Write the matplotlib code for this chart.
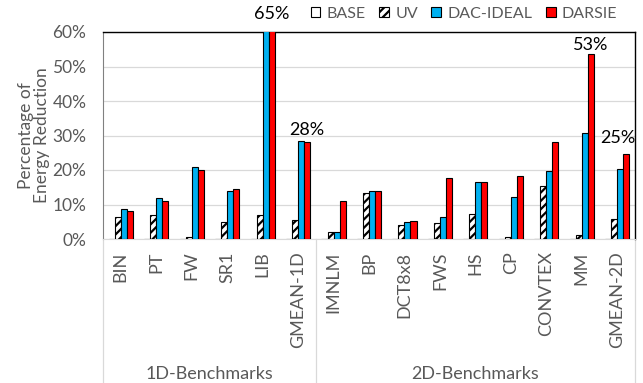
import numpy as np
import matplotlib
matplotlib.use('Agg')
import matplotlib.pyplot as plt
import matplotlib.transforms as mtransforms
from matplotlib.patches import Patch

plt.rcParams['font.family'] = ['Lato', 'DejaVu Sans']
plt.rcParams['hatch.linewidth'] = 1.6

# data (percent)
categories = ['BIN', 'PT', 'FW', 'SR1', 'LIB', 'GMEAN-1D',
              'IMNLM', 'BP', 'DCT8x8', 'FWS', 'HS', 'CP', 'CONVTEX', 'MM', 'GMEAN-2D']
groups = ['1D-Benchmarks', '2D-Benchmarks']
group_sizes = [6, 9]
series = ['BASE', 'UV', 'DAC-IDEAL', 'DARSIE']
base = [0, 0, 0, 0, 0, 0, 0, 0, 0, 0, 0, 0, 0, 0, 0]
uv = [6.5, 7.0, 0.5, 5.0, 7.0, 5.4, 1.9, 13.3, 4.1, 4.7, 7.3, 0.5, 15.4, 1.1, 5.9]
dac = [8.6, 11.8, 20.8, 13.9, 65.0, 28.4, 1.9, 13.8, 5.0, 6.4, 16.5, 12.1, 19.8, 30.8, 20.4]
darsie = [8.0, 10.9, 20.1, 14.5, 65.0, 28.1, 10.9, 13.8, 5.3, 17.7, 16.5, 18.4, 28.1, 53.6, 24.5]
# callouts on DARSIE bars: (category index, text, x / y offset in points)
callouts = [(4, '65%', 0, 7), (5, '28%', 0, 3), (13, '53%', 0, 1), (14, '25%', -6, 6)]

gray = '#595959'
colors = ['white', 'white', '#00b0f0', '#ff0000']
hatches = [None, '////', None, None]

fig = plt.figure(figsize=(6.43, 3.83), dpi=100)
ax = fig.add_axes([103/643, 1-239/383, 532/643, 207/383])

x = np.arange(len(categories))
w = 0.17
for k, vals in enumerate([base, uv, dac, darsie]):
    ax.bar(x + (k - 1.5) * w, vals, w, color=colors[k], edgecolor='black',
           linewidth=0.8, hatch=hatches[k], zorder=3)

ax.set_xlim(-0.5, len(categories) - 0.5)
ax.set_ylim(0, 60)
ax.set_yticks(np.arange(0, 61, 10))
ax.set_yticklabels([f'{v}%' for v in range(0, 61, 10)])
ax.yaxis.grid(True, color='#d9d9d9', linewidth=0.9, zorder=0)
ax.set_axisbelow(True)
ax.set_xticks(x)
ax.set_xticklabels(categories, rotation=90, va='top', ha='center')
ax.tick_params(axis='both', length=0, colors=gray)
ax.tick_params(axis='x', pad=9, labelsize=13)
ax.tick_params(axis='y', pad=12, labelsize=12.5)

for s in ['top', 'right']:
    ax.spines[s].set_color('black')
    ax.spines[s].set_linewidth(1.0)
ax.spines['left'].set_color('#808080')
ax.spines['bottom'].set_color('#d9d9d9')

ax.set_ylabel('Percentage of\nEnergy Reduction', fontsize=12.5, color=gray,
              linespacing=0.95)
ax.yaxis.set_label_coords(-0.100, 0.5)

for idx, txt, dx, dy in callouts:
    ax.annotate(txt, (x[idx] + 1.5 * w, min(darsie[idx], 60)), xytext=(dx, dy),
                textcoords='offset points', ha='center', va='bottom',
                fontsize=13, color='black', annotation_clip=False)

# group separators and labels under the axis
trans = mtransforms.blended_transform_factory(ax.transData, ax.transAxes)
edges = np.concatenate([[0], np.cumsum(group_sizes)]) - 0.5
for e in edges:
    ax.plot([e, e], [0, -0.72], transform=trans, color='#d9d9d9',
            linewidth=0.9, clip_on=False)
for g, lo, hi in zip(groups, edges[:-1], edges[1:]):
    ax.text((lo + hi) / 2, -0.65, g, transform=trans, ha='center', va='center',
            fontsize=13, color=gray)

handles = [Patch(facecolor=colors[k], edgecolor='black', hatch=hatches[k], linewidth=0.8)
           for k in range(4)]
fig.legend(handles, series, loc='center', bbox_to_anchor=(464/643, 1-14/383),
           ncol=4, frameon=False, fontsize=11.5, labelcolor=gray,
           handlelength=0.6, handleheight=0.6, handletextpad=0.4,
           columnspacing=0.85)

fig.savefig('out.png', dpi=100)
